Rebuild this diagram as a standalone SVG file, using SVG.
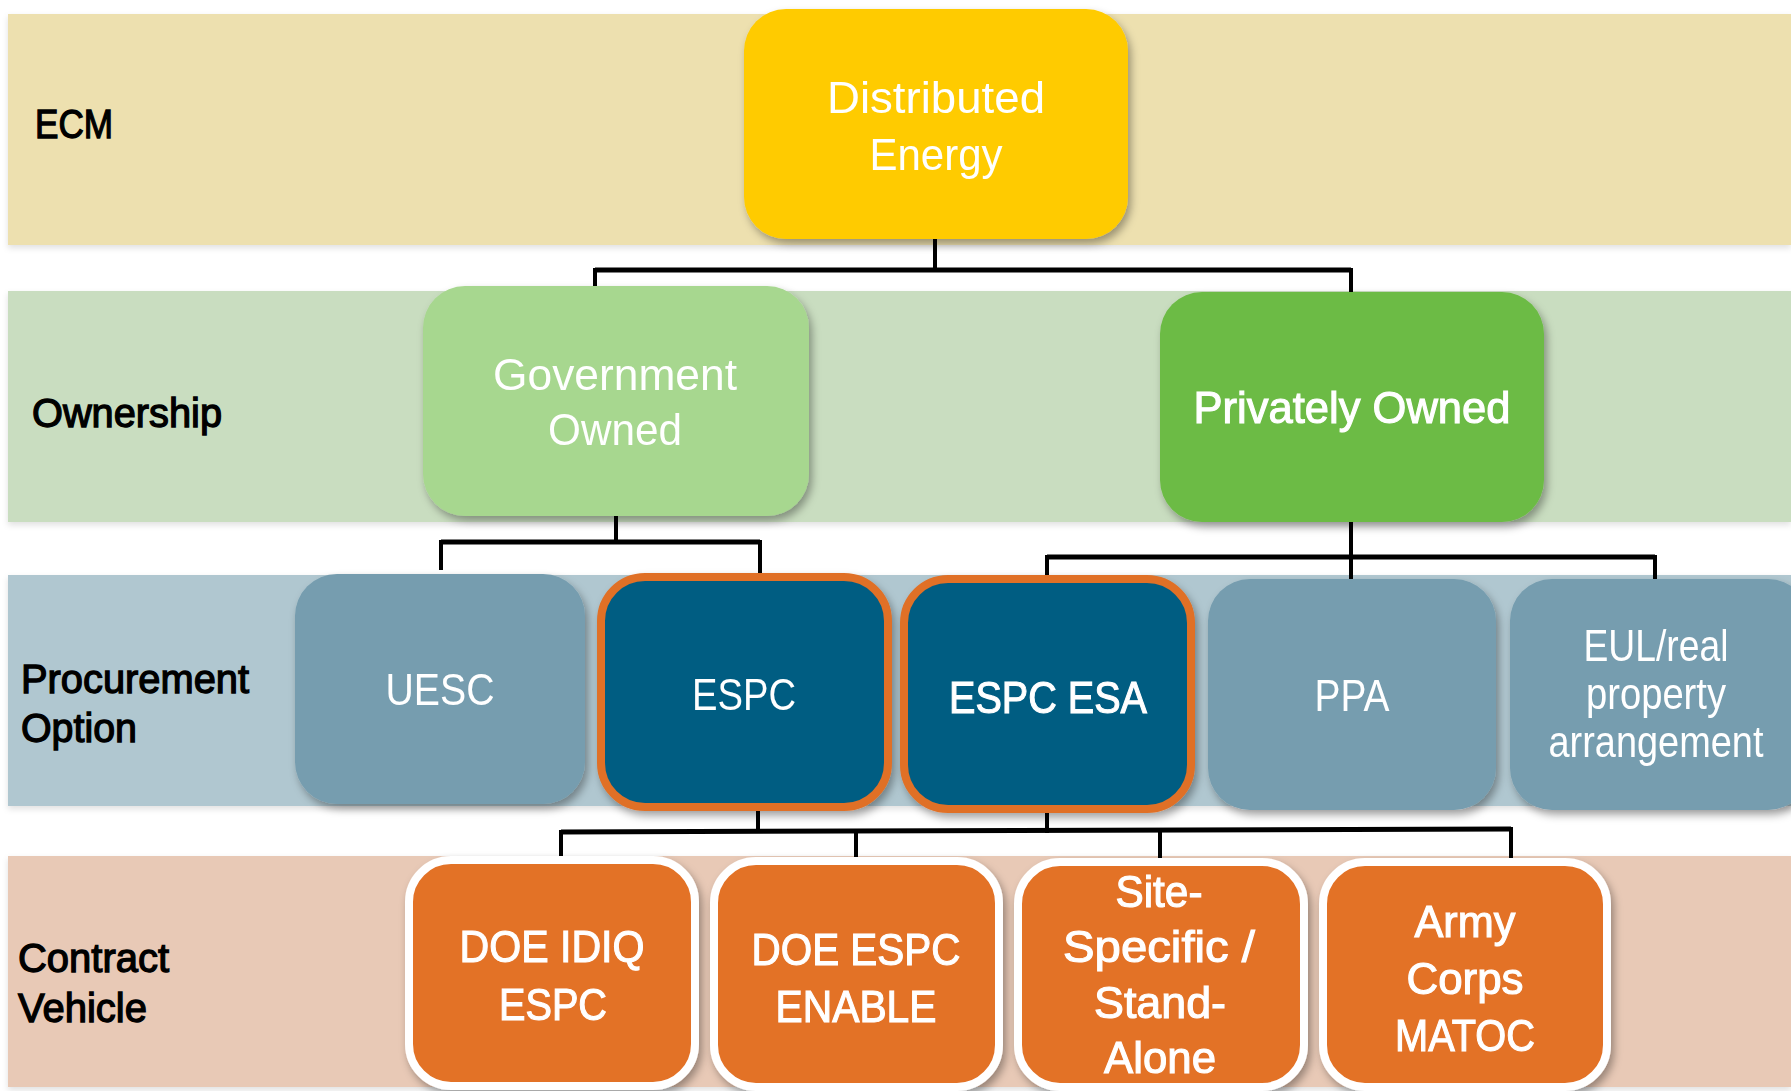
<svg xmlns="http://www.w3.org/2000/svg" width="1791" height="1091" viewBox="0 0 1791 1091">
<defs>
<filter id="sh" x="-10%" y="-10%" width="125%" height="125%">
<feDropShadow dx="3" dy="5" stdDeviation="4" flood-color="#000" flood-opacity="0.35"/>
</filter>
<filter id="bsh" x="-5%" y="-10%" width="110%" height="125%">
<feDropShadow dx="0" dy="3" stdDeviation="3" flood-color="#000" flood-opacity="0.12"/>
</filter>
</defs>
<style>
text{font-family:"Liberation Sans",Arial,sans-serif;}
.lbl{font-size:40px;fill:#000;stroke:#000;stroke-width:1.3px;}
.nt{font-size:44px;fill:#fff;text-anchor:middle;}
.med{stroke:#fff;stroke-width:1.1px;}
.conn{stroke:#000;stroke-width:4;fill:none;stroke-linecap:square;}
.bar{stroke:#000;stroke-width:5;fill:none;}
.opt{fill:#769DAF;}
.dark{fill:#025D82;stroke:#E07026;stroke-width:8;}
.cv{fill:#E37227;stroke:#fff;stroke-width:8;}
</style>
<rect width="1791" height="1091" fill="#fff"/>
<g id="bands" filter="url(#bsh)">
<rect x="8" y="14" width="1783" height="231" fill="#EDE0AF"/>
<rect x="8" y="291" width="1783" height="231" fill="#C9DDC0"/>
<rect x="8" y="575" width="1783" height="231" fill="#B0C7D0"/>
<rect x="8" y="856" width="1783" height="231" fill="#E8C9B6"/>
</g>
<g id="band-labels">
<text class="lbl" x="35" y="138" textLength="78" lengthAdjust="spacingAndGlyphs">ECM</text>
<text class="lbl" x="32" y="427" textLength="190" lengthAdjust="spacingAndGlyphs">Ownership</text>
<text class="lbl" x="21" y="693" textLength="228" lengthAdjust="spacingAndGlyphs">Procurement</text>
<text class="lbl" x="21" y="742" textLength="116" lengthAdjust="spacingAndGlyphs">Option</text>
<text class="lbl" x="18" y="972" textLength="151" lengthAdjust="spacingAndGlyphs">Contract</text>
<text class="lbl" x="18" y="1022" textLength="129" lengthAdjust="spacingAndGlyphs">Vehicle</text>
</g>
<g id="connectors">
<path class="conn" d="M935 240 V270"/>
<path class="bar" d="M595 270 H1351"/>
<path class="conn" d="M595 270 V287 M1351 270 V293"/>
<path class="conn" d="M616 516 V542"/>
<path class="bar" d="M441 542 H760"/>
<path class="conn" d="M441 542 V568 M760 542 V574"/>
<path class="conn" d="M1351 522 V557"/>
<path class="bar" d="M1047 557 H1655"/>
<path class="conn" d="M1047 557 V582 M1351 557 V579 M1655 557 V579"/>
<path class="conn" d="M758 811 V831 M1047 813 V831"/>
<path class="bar" d="M561 832 L1511 829"/>
<path class="conn" d="M561 832 V856 M856 831 V856 M1160 830 V857 M1511 829 V857"/>
</g>
<g id="n-distributed-energy" filter="url(#sh)">
<rect x="744" y="9" width="384" height="230" rx="42" fill="#FFCB05"/>
<text class="nt" x="936" y="113" textLength="218" lengthAdjust="spacingAndGlyphs">Distributed</text>
<text class="nt" x="936" y="170" textLength="133" lengthAdjust="spacingAndGlyphs">Energy</text>
</g>
<g id="n-government-owned" filter="url(#sh)">
<rect x="423" y="286" width="386" height="230" rx="42" fill="#A7D78F"/>
<text class="nt" x="615" y="390" textLength="244" lengthAdjust="spacingAndGlyphs">Government</text>
<text class="nt" x="615" y="445" textLength="134" lengthAdjust="spacingAndGlyphs">Owned</text>
</g>
<g id="n-privately-owned" filter="url(#sh)">
<rect x="1160" y="292" width="384" height="230" rx="42" fill="#6CBB45"/>
<text class="nt med" x="1352" y="423" textLength="317" lengthAdjust="spacingAndGlyphs">Privately Owned</text>
</g>
<g id="n-uesc" filter="url(#sh)">
<rect class="opt" x="295" y="574" width="290" height="230" rx="42"/>
<text class="nt" x="440" y="705" font-size="42" textLength="109" lengthAdjust="spacingAndGlyphs">UESC</text>
</g>
<g id="n-espc" filter="url(#sh)">
<rect class="dark" x="601" y="577" width="287" height="230" rx="44"/>
<text class="nt" x="744" y="710" textLength="104" lengthAdjust="spacingAndGlyphs">ESPC</text>
</g>
<g id="n-espc-esa" filter="url(#sh)">
<rect class="dark" x="904" y="579" width="287" height="230" rx="44"/>
<text class="nt med" x="1048" y="713" font-size="46" textLength="198" lengthAdjust="spacingAndGlyphs">ESPC ESA</text>
</g>
<g id="n-ppa" filter="url(#sh)">
<rect class="opt" x="1208" y="579" width="288" height="231" rx="42"/>
<text class="nt" x="1352" y="711" font-size="42" textLength="75" lengthAdjust="spacingAndGlyphs">PPA</text>
</g>
<g id="n-eul" filter="url(#sh)">
<rect class="opt" x="1510" y="579" width="300" height="231" rx="42"/>
<text class="nt" x="1656" y="661" font-size="38" textLength="145" lengthAdjust="spacingAndGlyphs">EUL/real</text>
<text class="nt" x="1656" y="709" font-size="38" textLength="140" lengthAdjust="spacingAndGlyphs">property</text>
<text class="nt" x="1656" y="757" font-size="38" textLength="215" lengthAdjust="spacingAndGlyphs">arrangement</text>
</g>
<g id="n-doe-idiq-espc" filter="url(#sh)">
<rect class="cv" x="409" y="860" width="286" height="226" rx="42"/>
<text class="nt med" x="552" y="962" textLength="185" lengthAdjust="spacingAndGlyphs">DOE IDIQ</text>
<text class="nt med" x="553" y="1020" textLength="108" lengthAdjust="spacingAndGlyphs">ESPC</text>
</g>
<g id="n-doe-espc-enable" filter="url(#sh)">
<rect class="cv" x="714" y="861" width="285" height="226" rx="42"/>
<text class="nt med" x="856" y="965" textLength="209" lengthAdjust="spacingAndGlyphs">DOE ESPC</text>
<text class="nt med" x="856" y="1022" textLength="161" lengthAdjust="spacingAndGlyphs">ENABLE</text>
</g>
<g id="n-site-specific" filter="url(#sh)">
<rect class="cv" x="1018" y="862" width="286" height="225" rx="42"/>
<text class="nt med" x="1159" y="907" textLength="87" lengthAdjust="spacingAndGlyphs">Site-</text>
<text class="nt med" x="1159" y="962" textLength="192" lengthAdjust="spacingAndGlyphs">Specific /</text>
<text class="nt med" x="1160" y="1018" textLength="132" lengthAdjust="spacingAndGlyphs">Stand-</text>
<text class="nt med" x="1160" y="1073" textLength="112" lengthAdjust="spacingAndGlyphs">Alone</text>
</g>
<g id="n-army-corps-matoc" filter="url(#sh)">
<rect class="cv" x="1323" y="862" width="284" height="225" rx="42"/>
<text class="nt med" x="1465" y="937" textLength="101" lengthAdjust="spacingAndGlyphs">Army</text>
<text class="nt med" x="1465" y="994" textLength="117" lengthAdjust="spacingAndGlyphs">Corps</text>
<text class="nt med" x="1465" y="1051" textLength="140" lengthAdjust="spacingAndGlyphs">MATOC</text>
</g>
</svg>
